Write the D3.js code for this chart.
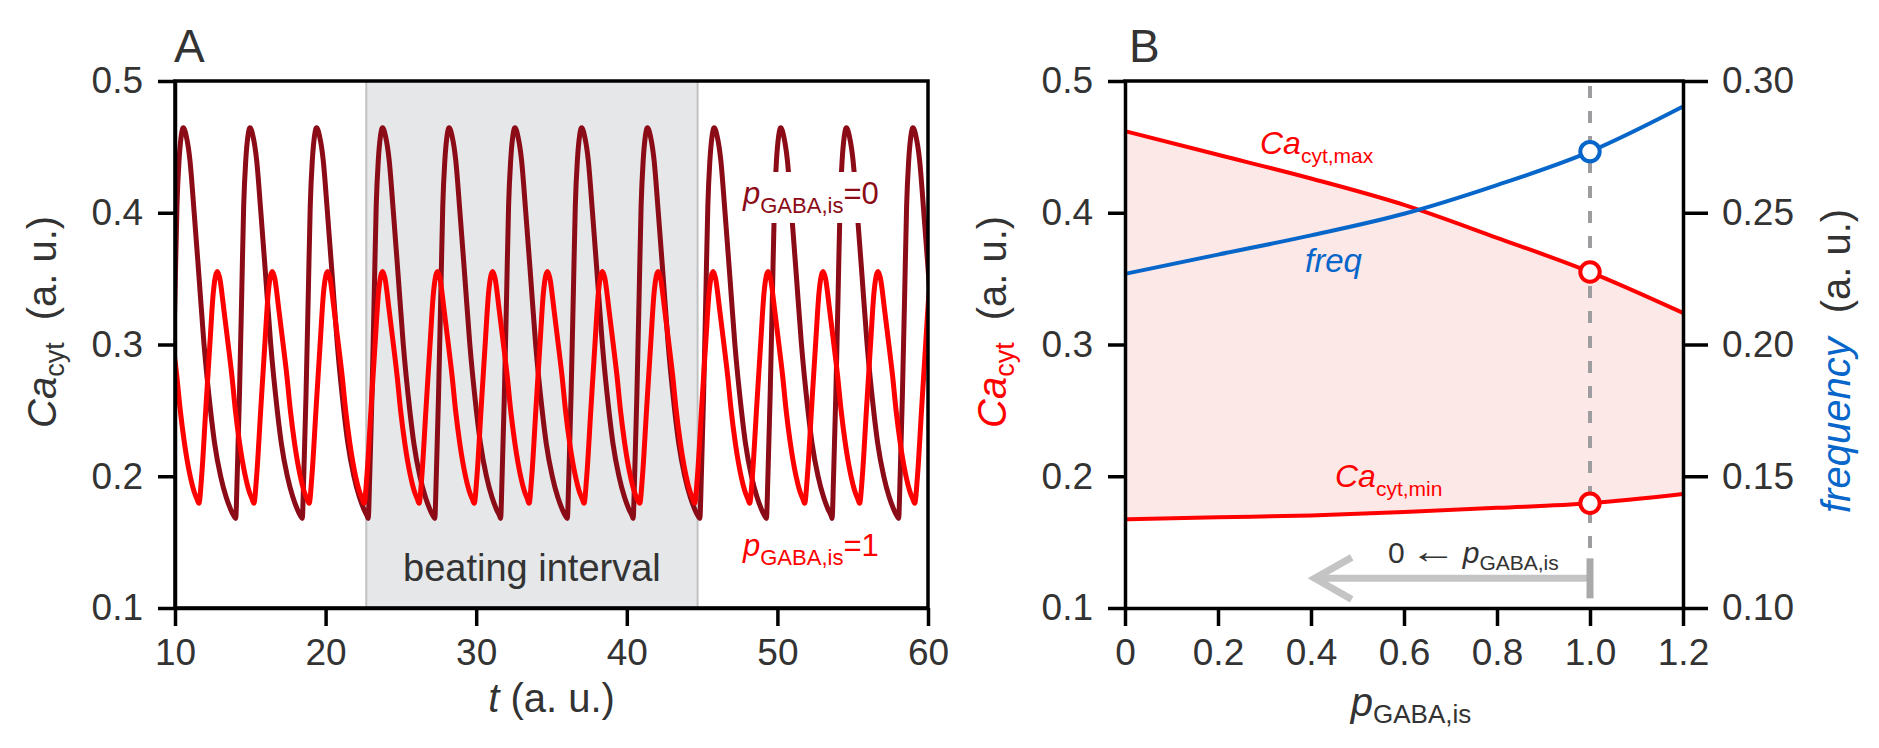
<!DOCTYPE html>
<html>
<head>
<meta charset="utf-8">
<script src="https://cdn.jsdelivr.net/npm/d3@7"></script>
<style>
  body { margin: 0; background: #fff; }
  svg { display: block; }
  text { font-family: "Liberation Sans", Arial, Helvetica, sans-serif; }
</style>
</head>
<body>
<div id="chart-container"></div>
<script>
// ---- data ----

// Panel A: times of the Ca peaks (t, a.u.) for each trace
const peaksP0 = [10.55, 14.98, 19.40, 23.78, 28.20, 32.57, 37.00, 41.37, 45.80, 50.22, 54.58, 59.00];
const peaksP1 = [9.15, 12.81, 16.46, 20.13, 23.78, 27.43, 31.09, 34.73, 38.38, 42.08, 45.73, 49.38, 53.03, 56.68, 60.34];

// one spike: offset from peak (t) and Ca value
const spikeP0Offset = [-0.95, -0.85, -0.70, -0.55, -0.42, -0.28, -0.14, 0, 0.20, 0.44, 0.71, 1.04, 1.37, 1.81, 2.08, 2.48, 2.85, 3.14, 3.35];
const spikeP0Ca     = [0.168, 0.200, 0.262, 0.338, 0.405, 0.440, 0.458, 0.4645, 0.458, 0.440, 0.402, 0.352, 0.301, 0.250, 0.225, 0.200, 0.184, 0.175, 0.170];
const spikeP1Offset = [-1.22, -1.04, -0.77, -0.49, -0.27, -0.12, 0, 0.15, 0.44, 0.71, 0.97, 1.20, 1.48, 1.86, 2.10, 2.30];
const spikeP1Ca     = [0.1795, 0.200, 0.250, 0.301, 0.339, 0.352, 0.3555, 0.351, 0.326, 0.301, 0.276, 0.250, 0.225, 0.200, 0.189, 0.183];

const beatInterval = [22.7, 44.7];

// Panel B: Ca max/min and frequency vs p_GABA,is
const pGaba = [0, 0.2, 0.4, 0.6, 0.8, 1.0, 1.2];
const caMax = [0.462, 0.444, 0.426, 0.406, 0.381, 0.355, 0.324];
const caMin = [0.1673, 0.1688, 0.1702, 0.1728, 0.1760, 0.1795, 0.1865];
const freq  = [0.2268, 0.2341, 0.2414, 0.2496, 0.2605, 0.2732, 0.2903];
const markP = 1.0;

// tick values
const tTicks = [10, 20, 30, 40, 50, 60];
const caTicks = [0.1, 0.2, 0.3, 0.4, 0.5];
const pTicks = [0, 0.2, 0.4, 0.6, 0.8, 1.0, 1.2];
const freqTicks = [0.10, 0.15, 0.20, 0.25, 0.30];

// ---- setup ----
const width = 1879;
const height = 748;
const darkRed = "#8b0b17";
const red = "#ff0000";
const blue = "#0766c9";
const ink = "#333";

const svg = d3.select("#chart-container")
  .append("svg")
  .attr("width", width)
  .attr("height", height);

svg.append("rect").attr("width", width).attr("height", height).attr("fill", "#fff");

const plotTop = 81, plotBottom = 608;

const xA = d3.scaleLinear().domain([10, 60]).range([175, 928]);
const yA = d3.scaleLinear().domain([0.1, 0.5]).range([plotBottom, plotTop]);
const xB = d3.scaleLinear().domain([0, 1.2]).range([1125, 1683]);
const yB = d3.scaleLinear().domain([0.1, 0.5]).range([plotBottom, plotTop]);
const yF = d3.scaleLinear().domain([0.10, 0.30]).range([plotBottom, plotTop]);

function styleAxis(g, size) {
  g.attr("font-family", null).attr("font-size", null);
  g.selectAll("path.domain").attr("stroke", "#000").attr("stroke-width", 3.5);
  g.selectAll(".tick line").attr("stroke", "#000").attr("stroke-width", 3.5);
  g.selectAll(".tick text").attr("fill", ink).style("font-size", size + "px");
}

// build a trace from the peak times and the spike shape
function buildTrace(peaks, offs, vals) {
  const pts = [];
  peaks.forEach(p => offs.forEach((o, i) => pts.push({ t: p + o, ca: vals[i] })));
  return pts;
}

// ================= Panel A =================
svg.append("defs").append("clipPath").attr("id", "clipA")
  .append("rect")
  .attr("x", xA(10)).attr("y", plotTop)
  .attr("width", xA(60) - xA(10)).attr("height", plotBottom - plotTop);

// beating interval band
svg.append("rect")
  .attr("x", xA(beatInterval[0]))
  .attr("y", plotTop)
  .attr("width", xA(beatInterval[1]) - xA(beatInterval[0]))
  .attr("height", plotBottom - plotTop)
  .attr("fill", "#e5e7e9");

svg.selectAll(".beatEdge")
  .data(beatInterval)
  .enter()
  .append("line")
  .attr("x1", d => xA(d)).attr("x2", d => xA(d))
  .attr("y1", plotTop).attr("y2", plotBottom)
  .attr("stroke", "#bfc1c3")
  .attr("stroke-width", 2);

svg.append("text")
  .attr("x", xA((beatInterval[0] + beatInterval[1]) / 2))
  .attr("y", 581)
  .attr("text-anchor", "middle")
  .attr("fill", ink)
  .style("font-size", "38px")
  .text("beating interval");

const waveLine = d3.line()
  .x(d => xA(d.t))
  .y(d => yA(d.ca))
  .curve(d3.curveMonotoneX);

const traces = svg.append("g").attr("clip-path", "url(#clipA)");

traces.append("path")
  .datum(buildTrace(peaksP0, spikeP0Offset, spikeP0Ca))
  .attr("d", waveLine)
  .attr("fill", "none")
  .attr("stroke", darkRed)
  .attr("stroke-width", 5)
  .attr("stroke-linejoin", "round");

traces.append("path")
  .datum(buildTrace(peaksP1, spikeP1Offset, spikeP1Ca))
  .attr("d", waveLine)
  .attr("fill", "none")
  .attr("stroke", red)
  .attr("stroke-width", 5)
  .attr("stroke-linejoin", "round");

// legend labels
svg.append("rect")
  .attr("x", 740).attr("y", 172)
  .attr("width", 136).attr("height", 51)
  .attr("fill", "#fff");

function pLabel(x, y, color, suffix) {
  const t = svg.append("text").attr("x", x).attr("y", y).attr("fill", color).style("font-size", "31px");
  t.append("tspan").style("font-style", "italic").text("p");
  t.append("tspan").attr("dy", 9).style("font-size", "22px").text("GABA,is");
  t.append("tspan").attr("dy", -9).text(suffix);
}
pLabel(743, 204, darkRed, "=0");
pLabel(743, 556, red, "=1");

// frame + axes
svg.append("rect")
  .attr("x", xA(10)).attr("y", plotTop)
  .attr("width", xA(60) - xA(10)).attr("height", plotBottom - plotTop)
  .attr("fill", "none").attr("stroke", "#000").attr("stroke-width", 3.5);

svg.append("g")
  .attr("transform", `translate(0,${plotBottom})`)
  .call(d3.axisBottom(xA).tickValues(tTicks).tickSize(18).tickSizeOuter(0).tickPadding(13).tickFormat(d3.format("d")))
  .call(g => styleAxis(g, 37));

svg.append("g")
  .attr("transform", `translate(${xA(10)},0)`)
  .call(d3.axisLeft(yA).tickValues(caTicks).tickSize(17).tickSizeOuter(0).tickPadding(15).tickFormat(d3.format(".1f")))
  .call(g => styleAxis(g, 37));

// axis titles A
const xtA = svg.append("text")
  .attr("x", (xA(10) + xA(60)) / 2).attr("y", 712)
  .attr("text-anchor", "middle").attr("fill", ink).style("font-size", "40px");
xtA.append("tspan").style("font-style", "italic").text("t");
xtA.append("tspan").text(" (a. u.)");

function caTitle(x, color) {
  const t = svg.append("text")
    .attr("transform", `translate(${x},428) rotate(-90)`)
    .attr("fill", ink).style("font-size", "40px");
  t.append("tspan").attr("fill", color).style("font-style", "italic").text("Ca");
  t.append("tspan").attr("fill", color).attr("dy", 8).style("font-size", "27px").text("cyt");
  t.append("tspan").attr("dy", -8).attr("dx", 22).text("(a. u.)");
}
caTitle(56, ink);

svg.append("text").attr("x", 174).attr("y", 62).attr("fill", ink).style("font-size", "46px").text("A");

// ================= Panel B =================
svg.append("path")
  .datum(pGaba)
  .attr("d", d3.area()
    .x(d => xB(d))
    .y0((d, i) => yB(caMin[i]))
    .y1((d, i) => yB(caMax[i]))
    .curve(d3.curveMonotoneX))
  .attr("fill", "#fde8e8");

svg.append("line")
  .attr("x1", xB(markP)).attr("x2", xB(markP))
  .attr("y1", plotTop + 5).attr("y2", 598)
  .attr("stroke", "#9d9d9f").attr("stroke-width", 4)
  .attr("stroke-dasharray", "12,13");

// grey direction arrow (towards p = 0)
const arrowY = yB(0.1225);
const arrowTip = xB(0.408);
svg.append("line")
  .attr("x1", xB(markP)).attr("x2", arrowTip + 3)
  .attr("y1", arrowY).attr("y2", arrowY)
  .attr("stroke", "#c4c4c4").attr("stroke-width", 7);
svg.append("path")
  .attr("d", `M${arrowTip + 37},${arrowY - 21} L${arrowTip},${arrowY} L${arrowTip + 37},${arrowY + 21}`)
  .attr("fill", "none").attr("stroke", "#c4c4c4").attr("stroke-width", 7);
svg.append("line")
  .attr("x1", xB(markP)).attr("x2", xB(markP))
  .attr("y1", arrowY - 20).attr("y2", arrowY + 20)
  .attr("stroke", "#a9a9a9").attr("stroke-width", 7);

const arrowLabel = svg.append("text").attr("x", 1388).attr("y", 563).attr("fill", ink).style("font-size", "30px");
arrowLabel.append("tspan").text("0");
arrowLabel.append("tspan").attr("dx", 5)
  .style("font-size", "35px")
  .attr("textLength", 47).attr("lengthAdjust", "spacingAndGlyphs")
  .text("\u2190");
arrowLabel.append("tspan").attr("dx", 6).style("font-style", "italic").text("p");
arrowLabel.append("tspan").attr("dy", 7).style("font-size", "21px").text("GABA,is");

const lineB = (vals, yScale) => d3.line()
  .x((d, i) => xB(pGaba[i]))
  .y((d, i) => yScale(vals[i]))
  .curve(d3.curveMonotoneX)(pGaba);

svg.append("path").attr("d", lineB(caMax, yB)).attr("fill", "none").attr("stroke", red).attr("stroke-width", 4);
svg.append("path").attr("d", lineB(caMin, yB)).attr("fill", "none").attr("stroke", red).attr("stroke-width", 4);
svg.append("path").attr("d", lineB(freq, yF)).attr("fill", "none").attr("stroke", blue).attr("stroke-width", 4);

const mi = pGaba.indexOf(markP);
const marks = [
  { y: yB(caMax[mi]), c: red },
  { y: yB(caMin[mi]), c: red },
  { y: yF(freq[mi]), c: blue }
];
svg.selectAll(".mark")
  .data(marks)
  .enter()
  .append("circle")
  .attr("cx", xB(markP))
  .attr("cy", d => d.y)
  .attr("r", 9.7)
  .attr("fill", "#fff")
  .attr("stroke", d => d.c)
  .attr("stroke-width", 4);

// curve labels
function caLabel(x, y, sub) {
  const t = svg.append("text").attr("x", x).attr("y", y).attr("fill", red).style("font-size", "32px");
  t.append("tspan").style("font-style", "italic").text("Ca");
  t.append("tspan").attr("dy", 9).style("font-size", "21px").text(sub);
}
caLabel(1260, 154, "cyt,max");
caLabel(1335, 487, "cyt,min");

svg.append("text").attr("x", 1305).attr("y", 272).attr("fill", blue)
  .style("font-size", "33px").style("font-style", "italic").text("freq");

// frame + axes
svg.append("line")
  .attr("x1", xB(0)).attr("x2", xB(1.2)).attr("y1", plotTop).attr("y2", plotTop)
  .attr("stroke", "#000").attr("stroke-width", 3.5).attr("stroke-linecap", "square");

svg.append("g")
  .attr("transform", `translate(0,${plotBottom})`)
  .call(d3.axisBottom(xB).tickValues(pTicks).tickSize(18).tickSizeOuter(0).tickPadding(13)
    .tickFormat(d => d === 0 ? "0" : d3.format(".1f")(d)))
  .call(g => styleAxis(g, 37));

svg.append("g")
  .attr("transform", `translate(${xB(0)},0)`)
  .call(d3.axisLeft(yB).tickValues(caTicks).tickSize(17).tickSizeOuter(0).tickPadding(15).tickFormat(d3.format(".1f")))
  .call(g => styleAxis(g, 37));

svg.append("g")
  .attr("transform", `translate(${xB(1.2)},0)`)
  .call(d3.axisRight(yF).tickValues(freqTicks).tickSize(25).tickSizeOuter(0).tickPadding(14).tickFormat(d3.format(".2f")))
  .call(g => styleAxis(g, 37));

// axis titles B
const xtB = svg.append("text")
  .attr("x", 1411).attr("y", 716)
  .attr("text-anchor", "middle").attr("fill", ink).style("font-size", "40px");
xtB.append("tspan").style("font-style", "italic").text("p");
xtB.append("tspan").attr("dy", 7).style("font-size", "26px").text("GABA,is");

caTitle(1006, red);

const fTitle = svg.append("text")
  .attr("transform", "translate(1850,513) rotate(-90)")
  .attr("fill", ink).style("font-size", "40px");
fTitle.append("tspan").attr("fill", blue).style("font-style", "italic").text("frequency");
fTitle.append("tspan").attr("dx", 24).text("(a. u.)");

svg.append("text").attr("x", 1129).attr("y", 62).attr("fill", ink).style("font-size", "46px").text("B");
</script>
</body>
</html>
